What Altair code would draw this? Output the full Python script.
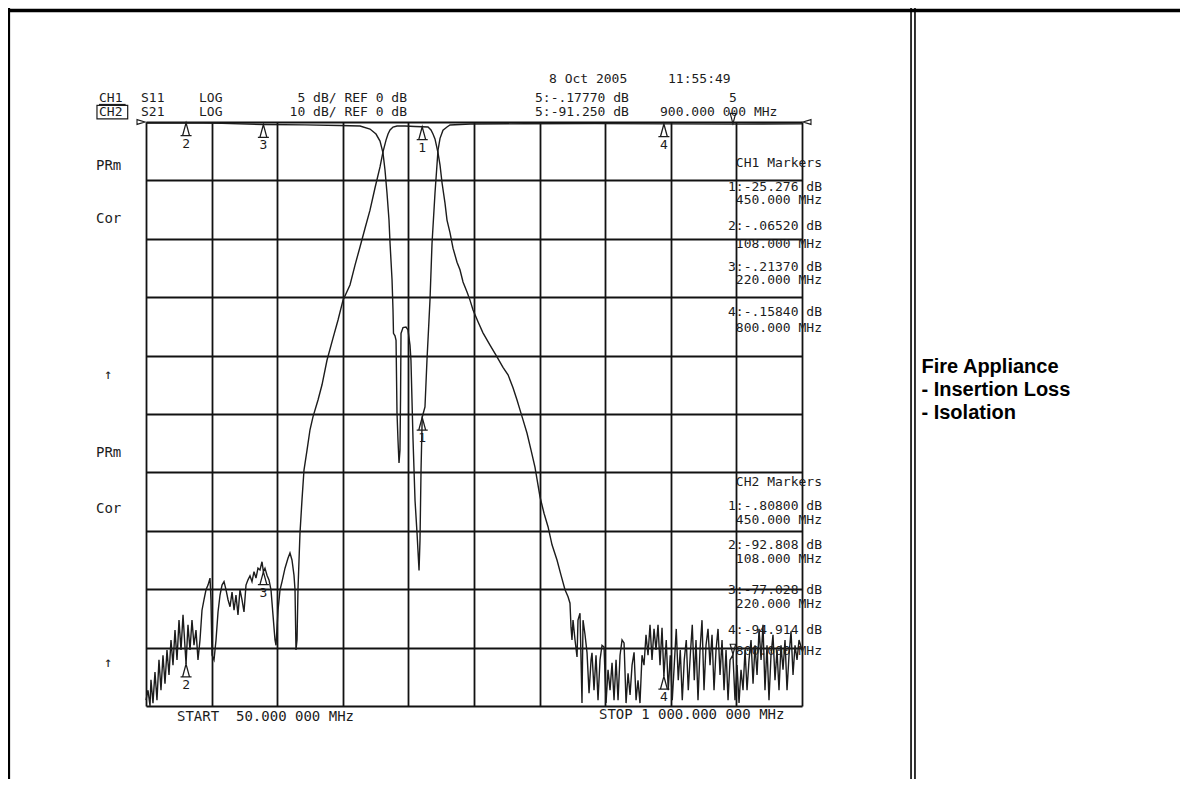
import altair as alt
import pandas as pd

# ---------------- trace data ----------------
# CH1 : S11, LOG, 5 dB/div, REF 0 dB
ch1_freq = [50, 108, 160, 220, 280, 330, 360, 374.4, 383.1, 388.9, 393.2, 396.1, 399.0, 401.9,
            403.4, 406.3, 407.7, 408.4, 410.6, 412.1, 413.5, 414.9, 416.4, 417.8, 418.6, 419.3,
            422.2, 426.5, 429.4, 432.3, 433.7, 436.7, 439.6, 442.5, 445.4, 446.8, 448.3,
            450, 452.6, 454.0, 456.9, 459.8, 461.3, 464.2, 468.5, 472.9, 475.8, 480.1, 485.9, 490.3,
            520, 600, 700, 800, 900, 1000]
ch1_db = [-0.10, -0.065, -0.12, -0.214, -0.25, -0.30, -0.34, -0.60, -1.03, -1.63, -2.65, -4.11, -6.08, -8.39,
          -10.36, -13.5, -16.1, -18.1, -18.3, -18.7, -24.9, -27.2, -29.2, -28.1, -23.8, -18.1,
          -17.6, -17.55, -17.8, -19.1, -20.4, -27.2, -32.4, -35.2, -38.4, -35.8, -29.8,
          -25.276, -24.7, -24.4, -20.4, -17.0, -15.2, -10.4, -6.1, -2.4, -1.4, -0.7, -0.43, -0.26,
          -0.17, -0.15, -0.14, -0.158, -0.178, -0.16]

# CH2 : S21, LOG, 10 dB/div, REF 0 dB  (noise below band / filter response / noise above band)
ch2_lo_freq = [50, 52.9, 55.8, 57.2, 60.1, 63.0, 65.9, 68.8, 71.7, 74.6,
               77.5, 80.4, 83.3, 86.2, 89.1, 92.0, 94.9, 97.8, 100.7, 103.6,
               108, 110.8, 113.7, 116.6, 119.5, 122.4, 125.3, 128.2, 131.1, 134.0,
               136.9, 139.8, 142.7, 144.1, 145.6, 148.5, 151.4, 154.3, 157.2, 160.1,
               163.0, 165.9, 168.8, 171.7, 174.6, 177.5, 180.3, 183.2, 186.1, 189.0,
               191.9, 194.8, 197.7, 200.6, 203.5, 206.4, 209.3, 212.2, 215.1, 218.0,
               220, 222.3, 225.2, 228.1, 231.0, 233.9, 236.8, 238.3, 241.2, 244.1,
               247.0, 251.3, 255.6, 258.5, 261.4, 264.3, 265.8, 267.2, 268.7, 270.1,
               271.6]
ch2_lo_db = [-99.0, -97.3, -100, -95.5, -99.5, -94.2, -99.0, -92.1, -97.3, -91.3,
             -96.2, -90.4, -94.7, -88.7, -93.0, -87.0, -92.1, -85.3, -90.4, -84.4,
             -92.8, -86.1, -90.4, -85.3, -89.6, -87.0, -92.1, -88.7, -83.6, -81.8,
             -80.1, -79.3, -78.1, -81.8, -91.3, -92.1, -88.7, -83.9, -81.0, -79.3,
             -78.7, -80.1, -81.8, -83.0, -80.5, -83.6, -81.0, -84.4, -80.1, -81.8,
             -83.9, -79.3, -78.4, -77.7, -78.7, -77.0, -78.1, -76.4, -76.7, -75.3,
             -77.0, -76.4, -77.6, -78.4, -80.1, -84.4, -88.7, -89.6, -83.6, -80.1,
             -78.7, -76.4, -74.7, -73.8, -75.0, -77.6, -80.1, -90.4, -88.7, -80.1,
             -75.0]

ch2_band_freq = [273.0, 275.9, 278.8, 283.2, 287.5, 291.8, 299.1, 304.9, 312.1, 320.8,
                 328.1, 335.3, 345.4, 352.7, 359.9, 367.2, 374.4, 381.6, 388.9, 393.2,
                 397.6, 400.5, 403.4, 407.7, 413.5, 425.1, 439.6, 450, 458.4, 462.7,
                 465.6, 468.5, 472.9, 475.8, 478.7, 483.0, 485.9, 490.3, 494.6, 500.4,
                 504.7, 509.1, 514.9, 519.2, 523.6, 530.8, 538.0, 548.2, 558.3, 567.0,
                 574.3, 581.5, 587.3, 591.6, 596.0, 601.8, 607.6, 613.3, 620.6, 626.4,
                 632.2, 638.0, 645.2, 651.0, 656.8, 661.2, 664.0, 665.5]
ch2_band_db = [-70.4, -64.7, -59.6, -56.2, -52.7, -50.5, -47.6, -45.0, -40.8, -37.0,
               -33.9, -30.5, -27.9, -24.5, -21.4, -18.2, -15.1, -11.3, -7.7, -5.1,
               -3.1, -2.05, -1.37, -0.86, -0.68, -0.68, -0.77, -0.808, -0.86, -1.37,
               -2.05, -2.9, -5.3, -7.4, -10.4, -13.9, -16.8, -19.0, -21.6, -24.0,
               -25.3, -27.4, -29.1, -30.5, -32.2, -34.2, -36.1, -38.2, -40.2, -42.0,
               -43.3, -45.5, -47.6, -49.3, -51.0, -53.3, -56.2, -59.1, -64.2, -67.0,
               -69.3, -72.4, -75.0, -77.6, -80.1, -81.3, -82.4, -86.5]

ch2_hi_freq = [666.9, 668.4, 671.3, 674.2, 675.6, 678.5, 681.4, 682.9, 685.8, 688.7,
               691.6, 694.5, 695.9, 698.8, 701.7, 704.6, 707.5, 710.4, 713.3, 716.2,
               719.1, 722.0, 724.9, 727.8, 730.7, 733.6, 736.5, 739.4, 742.3, 745.2,
               748.1, 751.0, 753.9, 756.8, 759.7, 762.5, 765.4, 768.3, 771.2, 774.1,
               777.0, 779.9, 782.8, 785.7, 788.6, 791.5, 794.4, 797.3, 800, 803.4,
               806.3, 809.2, 812.1, 815.0, 817.9, 820.8, 823.7, 826.6, 829.5, 832.4,
               835.3, 838.2, 841.1, 844.0, 846.5, 849.4, 852.3, 855.2, 858.1, 861.0,
               863.9, 866.8, 869.7, 872.6, 875.5, 878.4, 881.3, 884.2, 887.1, 890.0,
               892.9, 895.8, 900, 903.0, 905.9, 908.8, 911.7, 914.6, 917.5, 920.4,
               923.3, 926.2, 929.1, 932.0, 934.9, 937.8, 940.7, 943.5, 946.4, 949.3,
               952.2, 955.1, 958.0, 960.9, 963.8, 966.7, 969.6, 972.5, 975.4, 978.3,
               981.2, 984.1, 987.0, 989.9, 992.8, 995.7, 1000]
ch2_hi_db = [-88.7, -85.3, -88.7, -91.6, -85.3, -84.1, -99.5, -85.3, -87.8, -90.9,
             -97.8, -92.1, -90.9, -97.3, -91.3, -99.0, -92.1, -89.6, -89.9, -99.5,
             -93.8, -97.3, -92.6, -99.0, -92.1, -99.0, -91.3, -88.7, -89.2, -99.5,
             -94.4, -98.1, -93.0, -90.8, -99.0, -95.6, -99.5, -91.3, -93.0, -87.8,
             -91.3, -86.1, -92.1, -86.8, -90.4, -86.1, -93.0, -86.6, -94.9, -88.7,
             -97.3, -91.3, -99.0, -93.0, -86.8, -95.6, -90.4, -99.0, -92.1, -88.7,
             -97.3, -91.3, -86.1, -95.6, -88.7, -99.0, -90.4, -85.3, -97.3, -89.6,
             -86.8, -93.0, -87.8, -97.3, -90.4, -86.8, -94.7, -88.7, -97.3, -90.4,
             -99.0, -92.1, -91.25, -99.0, -93.0, -99.5, -93.8, -97.3, -90.4, -97.3,
             -92.1, -88.7, -96.2, -89.6, -94.7, -86.8, -92.1, -86.1, -97.3, -89.6,
             -99.0, -91.3, -87.8, -95.6, -90.4, -97.3, -89.6, -93.8, -88.7, -97.3,
             -91.3, -87.2, -94.7, -89.6, -92.1, -88.7, -90.4]

# markers (1..4 listed, 5 = active marker)
mk_id = [1, 2, 3, 4, 5]
mk_freq = [450.0, 108.0, 220.0, 800.0, 900.0]
ch1_mk_db = [-25.276, -0.0652, -0.2137, -0.1584, -0.1777]
ch2_mk_db = [-0.808, -92.808, -77.028, -94.914, -91.25]

# grid: 10 divisions each way
x_ticks = [50 + 95 * i for i in range(11)]
y_ticks = [-100 + 10 * i for i in range(11)]
CH1_FACTOR = 2.0   # 5 dB/div drawn on the 10 dB/div grid

NB = "\u00a0"      # keeps repeated blanks of the instrument text


def fmt_db(v):
    if abs(v) < 1:
        return ("-" if v < 0 else "") + f"{abs(v):.5f}"[1:]
    return f"{v:.3f}"


INK = "#1c1c1c"
MONO = "DejaVu Sans Mono"

axis_common = dict(grid=True, gridColor="#121212", gridWidth=1.8, gridOpacity=1,
                   domain=False, ticks=False, labels=False, title="")
X = alt.X("freq:Q", scale=alt.Scale(domain=[50, 1000], nice=False, zero=False),
          axis=alt.Axis(values=x_ticks, **axis_common))
Y = alt.Y("y:Q", scale=alt.Scale(domain=[-100, 0], nice=False, zero=False),
          axis=alt.Axis(values=y_ticks, **axis_common))

# ---------------- traces ----------------
ch1_df = pd.DataFrame({"freq": ch1_freq, "db": ch1_db})
ch2_df = pd.DataFrame({"freq": ch2_lo_freq + ch2_band_freq + ch2_hi_freq,
                       "db": ch2_lo_db + ch2_band_db + ch2_hi_db})

ch1_line = alt.Chart(ch1_df).transform_calculate(y=f"datum.db * {CH1_FACTOR}").mark_line(
    color=INK, strokeWidth=1.4, interpolate="linear").encode(x=X, y=Y, order="freq:Q")
ch2_line = alt.Chart(ch2_df).transform_calculate(y="datum.db").mark_line(
    color=INK, strokeWidth=1.4, interpolate="linear").encode(x=X, y=Y, order="freq:Q")

# ---------------- markers ----------------
rows = []
for i, f, d1, d2 in zip(mk_id, mk_freq, ch1_mk_db, ch2_mk_db):
    rows.append({"freq": f, "y": d1 * CH1_FACTOR, "label": str(i), "active": i == 5})
    rows.append({"freq": f, "y": d2, "label": str(i), "active": i == 5})
mk_df = pd.DataFrame(rows)

UP = "M0,-1L0.5,0.85L-0.5,0.85Z M-0.8,0.85L0.8,0.85"
DOWN = "M0,1L0.5,-0.85L-0.5,-0.85Z"
mk_up = alt.Chart(mk_df).transform_filter("!datum.active").mark_point(
    shape=UP, size=190, filled=False, color=INK, strokeWidth=1.3, opacity=1, yOffset=7
).encode(x=X, y=Y)
mk_num = alt.Chart(mk_df).transform_filter("!datum.active").mark_text(
    font=MONO, fontSize=13, color=INK, dy=21, align="center", baseline="middle"
).encode(x=X, y=Y, text="label:N")
mk_down = alt.Chart(mk_df).transform_filter("datum.active").mark_point(
    shape=DOWN, size=120, filled=False, color=INK, strokeWidth=1.2, opacity=1, yOffset=-6
).encode(x=X, y=Y)

# reference-level pointers at both ends of the 0 dB line
ref_df = pd.DataFrame({"freq": [50, 1000], "y": [0, 0], "side": ["L", "R"]})
ref_l = alt.Chart(ref_df).transform_filter("datum.side == 'L'").mark_point(
    shape="M-1,-0.6L1,0L-1,0.6Z", size=64, filled=False, color=INK, strokeWidth=1.1, opacity=1, xOffset=-5
).encode(x=X, y=Y)
ref_r = alt.Chart(ref_df).transform_filter("datum.side == 'R'").mark_point(
    shape="M1,-0.6L-1,0L1,0.6Z", size=64, filled=False, color=INK, strokeWidth=1.1, opacity=1, xOffset=5
).encode(x=X, y=Y)

# ---------------- annotation texts (positions in MHz / dB of the CH2 grid) ----------------
ROW1, ROW2 = 4.1, 1.71      # the two channel header rows, above the 0 dB line
header_left = pd.DataFrame({
    "label": ["8 Oct 2005", "11:55:49",
              "CH1", "S11", "LOG", f"5:{fmt_db(ch1_mk_db[4])} dB",
              "CH2", "S21", "LOG", f"5:{fmt_db(ch2_mk_db[4])} dB", f"{mk_freq[4]:.3f} 000 MHz"],
    "freq": [633.6, 806.0,
             -18.1, 42.8, 126.8, 613.3,
             -18.1, 42.8, 126.8, 613.3, 794.4],
    "y": [7.36, 7.36,
          ROW1, ROW1, ROW1, ROW1,
          ROW2, ROW2, ROW2, ROW2, ROW2],
})
header_right = pd.DataFrame({
    "label": ["5 dB/ REF 0 dB", "10 dB/ REF 0 dB"],
    "freq": [428.0, 428.0],
    "y": [ROW1, ROW2],
})
header_center = pd.DataFrame({"label": ["5"], "freq": [mk_freq[4]], "y": [ROW1]})

side_text = pd.DataFrame({
    "label": ["PRm", "Cor", "PRm", "Cor",
              f"START{NB}{NB}50.000 000 MHz", "STOP 1 000.000 000 MHz"],
    "freq": [-22.4, -22.4, -22.4, -22.4, 94.9, 706.0],
    "y": [-7.53, -16.61, -56.68, -66.27, -101.88, -101.54],
})
arrow_text = pd.DataFrame({"label": ["\u2191", "\u2191"], "freq": [-5.0, -5.0], "y": [-43.32, -92.64]})

# marker tables
ch1_table_y = [-7.02, -11.13, -13.36, -17.81, -20.89, -24.83, -27.05, -32.53, -35.27]
ch2_table_y = [-61.64, -65.75, -68.15, -72.43, -74.83, -80.14, -82.53, -86.99, -90.58]
tab_rows = []
for ch, vals, ys in (("CH1", ch1_mk_db, ch1_table_y), ("CH2", ch2_mk_db, ch2_table_y)):
    lines = [f"{ch} Markers"]
    for i in range(4):
        lines.append(f"{mk_id[i]}:{fmt_db(vals[i])} dB")
        lines.append(f"{mk_freq[i]:.3f} MHz")
    for t, yy in zip(lines, ys):
        tab_rows.append({"label": t, "freq": 1028.9, "y": yy})
table_text = pd.DataFrame(tab_rows)

hdr = dict(font=MONO, fontSize=13, color=INK, baseline="middle")
txt = dict(font=MONO, fontSize=14, color=INK, baseline="middle")
t_hl = alt.Chart(header_left).mark_text(align="left", **hdr).encode(x=X, y=Y, text="label:N")
t_hr = alt.Chart(header_right).mark_text(align="right", **hdr).encode(x=X, y=Y, text="label:N")
t_hc = alt.Chart(header_center).mark_text(align="center", **hdr).encode(x=X, y=Y, text="label:N")
t_side = alt.Chart(side_text).mark_text(align="left", **txt).encode(x=X, y=Y, text="label:N")
t_arrow = alt.Chart(arrow_text).mark_text(align="center", **txt).encode(x=X, y=Y, text="label:N")
t_table = alt.Chart(table_text).mark_text(
    align="right", font=MONO, fontSize=13, color=INK, baseline="middle"
).encode(x=X, y=Y, text="label:N")

# CH1 underline and CH2 box
ul_df = pd.DataFrame({"freq": [-18.1], "freq2": [20.5], "y": [3.0]})
ch1_ul = alt.Chart(ul_df).mark_rule(color=INK, strokeWidth=1.2).encode(x=X, x2="freq2:Q", y=Y)
box_df = pd.DataFrame({"freq": [-21.0], "freq2": [23.5], "y": [2.85], "y2": [0.55]})
ch2_box = alt.Chart(box_df).mark_rect(fillOpacity=0, stroke=INK, strokeWidth=1.2).encode(
    x=X, x2="freq2:Q", y=Y, y2="y2:Q")

# ---------------- page frame (table borders) and side caption ----------------
hframe = pd.DataFrame({"freq": [-149.8], "freq2": [1559.0], "y": [19.1]})
frame_top = alt.Chart(hframe).mark_rule(color="#000", strokeWidth=3.5).encode(x=X, x2="freq2:Q", y=Y)
vframe = pd.DataFrame({"freq": [-148.6, 1157.9, 1163.6], "y": [19.5, 19.5, 19.5],
                       "y2": [-112.6, -112.6, -112.6], "w": [2.5, 1.6, 1.6]})
frame_v = alt.Chart(vframe).mark_rule(color="#000").encode(
    x=X, y=Y, y2="y2:Q", strokeWidth=alt.StrokeWidth("w:Q", scale=None))

caption = pd.DataFrame({"label": ["Fire Appliance", "- Insertion Loss", "- Isolation"],
                        "freq": [1173.0, 1173.0, 1173.0], "y": [-41.95, -45.89, -49.83]})
t_caption = alt.Chart(caption).mark_text(
    align="left", baseline="middle", font="Liberation Sans", fontSize=20, fontWeight="bold", color="#000"
).encode(x=X, y=Y, text="label:N")

chart = alt.layer(
    ch1_line, ch2_line, mk_up, mk_num, mk_down, ref_l, ref_r,
    t_hl, t_hr, t_hc, t_side, t_arrow, t_table, ch1_ul, ch2_box,
    frame_top, frame_v, t_caption
).properties(
    width=656, height=584,
    autosize=alt.AutoSizeParams(type="none"),
    padding={"left": 138, "top": 114, "right": 378, "bottom": 73},
    background="white",
).configure_view(stroke=None)

chart.save("out.html", embed_options={"renderer": "svg", "actions": False})
